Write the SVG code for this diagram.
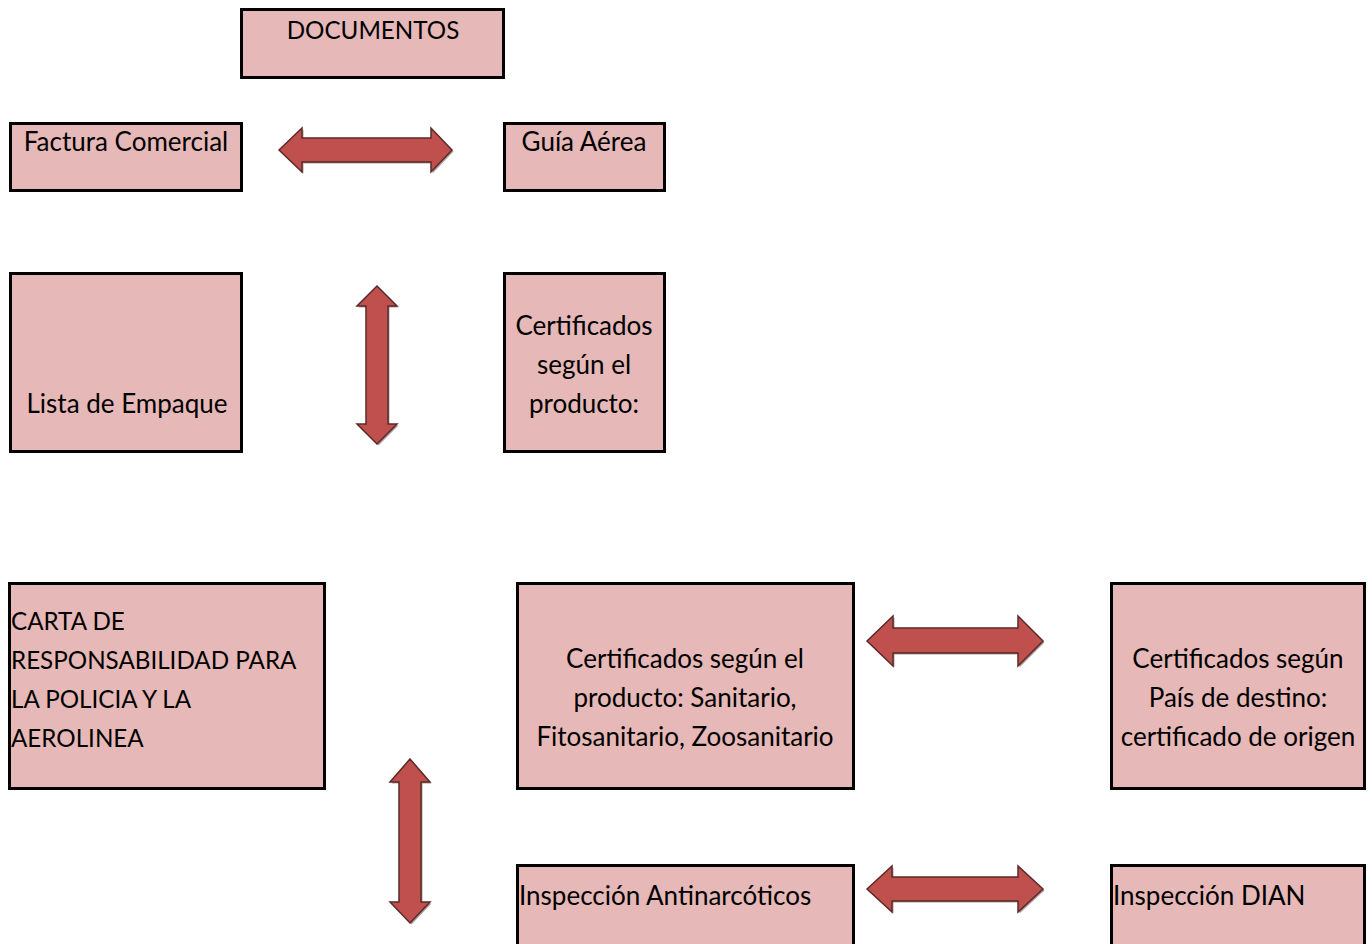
<svg xmlns="http://www.w3.org/2000/svg" xmlns:xlink="http://www.w3.org/1999/xlink" width="1372" height="944" viewBox="0 0 1372 944">
<style>
.box{fill:#E6B8B7;stroke:#000;stroke-width:3}
.t{font-family:Lato,"Open Sans","Liberation Sans",sans-serif;font-size:26px;fill:#000}
.u{font-size:24.2px}
.c{text-anchor:middle}
.arr{fill:#C0504D;stroke:#5B2A28;stroke-width:1.5;stroke-linejoin:miter}
.sh{fill:#4a2220;opacity:0.45}
</style>
<defs>
<path id="a1" d="M279,150 L302,128 L302,138 L431,138 L431,128 L452,150 L431,172 L431,162 L302,162 L302,172 Z"/>
<path id="a2" d="M867,641 L893,616 L893,628 L1018,628 L1018,616 L1043,641 L1018,666 L1018,653 L893,653 L893,666 Z"/>
<path id="a3" d="M867,889 L892,866 L892,877 L1018,877 L1018,866 L1043,889 L1018,912 L1018,901 L892,901 L892,912 Z"/>
<path id="v1" d="M377,286 L397,306 L388,306 L388,424 L397,424 L377,444 L357,424 L366,424 L366,306 L357,306 Z"/>
<path id="v2" d="M410,759 L430,782 L421,782 L421,902 L430,902 L410,923 L390,902 L399,902 L399,782 L390,782 Z"/>
</defs>
<rect width="1372" height="944" fill="#fff"/>
<g id="connectors">
<use xlink:href="#a1" class="sh" transform="translate(1.5,1.5)"/><use xlink:href="#a1" class="arr"/>
<use xlink:href="#a2" class="sh" transform="translate(1.5,1.5)"/><use xlink:href="#a2" class="arr"/>
<use xlink:href="#a3" class="sh" transform="translate(1.5,1.5)"/><use xlink:href="#a3" class="arr"/>
<use xlink:href="#v1" class="sh" transform="translate(1.5,1.5)"/><use xlink:href="#v1" class="arr"/>
<use xlink:href="#v2" class="sh" transform="translate(1.5,1.5)"/><use xlink:href="#v2" class="arr"/>
</g>
<g id="documentos"><rect class="box" x="241.5" y="9.5" width="262" height="68"/><text class="t u c" x="373" y="39">DOCUMENTOS</text></g>
<g id="factura"><rect class="box" x="10.5" y="123.5" width="231" height="67"/><text class="t c" x="126" y="151">Factura Comercial</text></g>
<g id="guia"><rect class="box" x="504.5" y="123.5" width="160" height="67"/><text class="t c" x="584" y="151">Guía Aérea</text></g>
<g id="lista"><rect class="box" x="10.5" y="273.5" width="231" height="178"/><text class="t c" x="127" y="413">Lista de Empaque</text></g>
<g id="certificados"><rect class="box" x="504.5" y="273.5" width="160" height="178"/><text class="t c" x="584" y="335">Certificados</text><text class="t c" x="584" y="374">según el</text><text class="t c" x="584" y="413">producto:</text></g>
<g id="carta"><rect class="box" x="9.5" y="583.5" width="315" height="205"/><text class="t u" x="11" y="630">CARTA DE</text><text class="t u" x="11" y="669">RESPONSABILIDAD PARA</text><text class="t u" x="11" y="708">LA POLICIA Y LA</text><text class="t u" x="11" y="747">AEROLINEA</text></g>
<g id="cert-producto"><rect class="box" x="517.5" y="583.5" width="336" height="205"/><text class="t c" x="685" y="668">Certificados según el</text><text class="t c" x="685" y="707">producto: Sanitario,</text><text class="t c" x="685" y="746">Fitosanitario, Zoosanitario</text></g>
<g id="cert-pais"><rect class="box" x="1111.5" y="583.5" width="253" height="205"/><text class="t c" x="1238" y="668">Certificados según</text><text class="t c" x="1238" y="707">País de destino:</text><text class="t c" x="1238" y="746">certificado de origen</text></g>
<g id="antinarcoticos"><rect class="box" x="517.5" y="865.5" width="336" height="100"/><text class="t" x="519" y="905">Inspección Antinarcóticos</text></g>
<g id="dian"><rect class="box" x="1111.5" y="865.5" width="253" height="100"/><text class="t" x="1113" y="905">Inspección DIAN</text></g>
</svg>
